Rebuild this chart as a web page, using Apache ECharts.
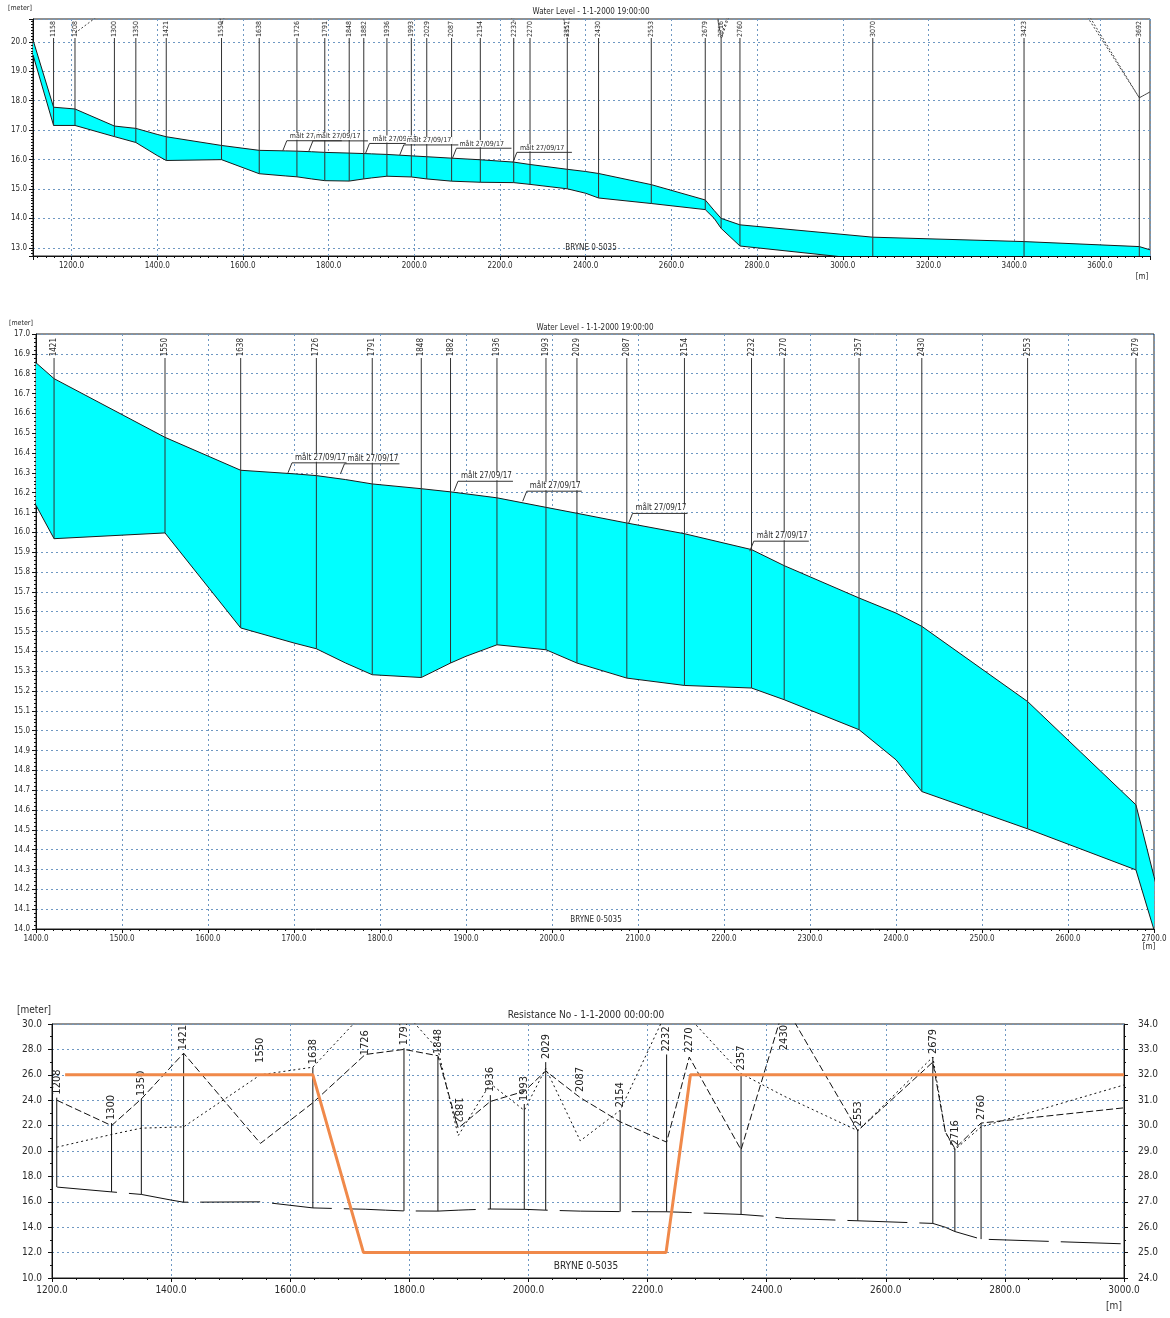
<!DOCTYPE html>
<html><head><meta charset="utf-8">
<script src="https://cdn.jsdelivr.net/npm/echarts@6/dist/echarts.min.js"></script>
<style>html,body{margin:0;padding:0;background:#fff}#c{width:1170px;height:1318px}</style>
</head><body><div id="c"></div>
<script>
// ---------------- DATA ----------------
const chainage   = [1110,1158,1208,1300,1350,1400,1421,1550,1638,1700,1726,1760,1791,1848,1882,1900,1936,1993,2029,2087,2154,2232,2270,2357,2400,2430,2553,2679,2700,2716,2760,3070,3423,3692,3717];
const waterLevel = [20.07,17.78,17.72,17.14,17.06,16.855,16.775,16.479,16.313,16.295,16.286,16.266,16.244,16.220,16.204,16.194,16.174,16.126,16.096,16.047,15.993,15.913,15.832,15.669,15.593,15.526,15.147,14.626,14.264,14.00,13.78,13.36,13.21,13.04,12.93];
const bedLevel   = [19.56,17.16,17.16,16.78,16.58,16.136,15.968,15.997,15.518,15.442,15.413,15.341,15.282,15.268,15.341,15.375,15.433,15.408,15.341,15.265,15.228,15.215,15.156,15.005,14.853,14.693,14.505,14.298,13.995,13.66,13.06,12.58,12.45,12.30,12.25];

const sectionsTop    = [1158,1208,1300,1350,1421,1550,1638,1726,1791,1848,1882,1936,1993,2029,2087,2154,2232,2270,2357,2430,2553,2679,2716,2760,3070,3423,3692];
const sectionsMiddle = [1421,1550,1638,1726,1791,1848,1882,1936,1993,2029,2087,2154,2232,2270,2357,2430,2553,2679];
const sectionsBottom = [1208,1300,1350,1421,1550,1638,1726,1791,1848,1882,1936,1993,2029,2087,2154,2232,2270,2357,2430,2553,2679,2716,2760];
const sectionTopLevel = [24.2,22.2,24.1,27.7,26.7,26.6,27.3,28.1,27.4,22.0,24.4,23.7,27.0,24.4,23.2,27.6,27.5,26.1,27.7,21.7,27.4,20.2,22.2];
const sectionsWithLine = [1208,1300,1350,1421,1638,1791,1848,1936,1993,2029,2154,2232,2357,2553,2679,2716,2760];

const measuredChainage = [1693,1754,1886,1966,2089,2230];
const measuredLevel    = [16.30,16.295,16.207,16.157,16.045,15.905];
const measuredText = 'målt 27/09/17';

const bankChainage = [1208,1300,1350,1421,1550,1638,1726,1791,1848,1882,1936,1993,2029,2087,2154,2232,2270,2357,2430,2553,2679,2700,2716,2760,3000,3070,3423,3692,3717];
const bankLeft  = [24.0,22.0,24.1,27.7,20.6,23.8,27.6,28.0,27.5,21.8,23.9,24.7,26.3,24.2,22.3,20.7,27.4,20.1,31.5,21.6,27.0,21.5,20.2,22.2,23.4,23.6,24.2,18.1,18.3];
const bankRight = [20.3,21.3,21.8,21.9,26.0,26.6,31.0,31.0,28.0,21.2,25.3,23.2,26.5,20.8,23.2,31.0,30.5,26.1,24.3,21.6,27.4,21.5,20.1,21.9,25.2,25.7,24.5,18.1,18.3];

const resistanceChainage = [1222,1638,1723,2231,2272,3000];
const resistanceValue    = [32,32,25,25,32,32];

const titleTop = 'Water Level - 1-1-2000 19:00:00';
const titleBottom = 'Resistance No - 1-1-2000 00:00:00';
const branchName = 'BRYNE 0-5035';

// ---------------- HELPERS ----------------
const FONT = '"Liberation Sans Narrow","DejaVu Sans Condensed","Arial Narrow","Liberation Sans",sans-serif';
const TXT = '#2a2a2a';
const GRIDC = '#6f98c2';
const pairs = (xs, ys) => xs.map((x, i) => [x, ys[i]]);
const bedAt = ch => bedLevel[chainage.indexOf(ch)];

function clipPoly(pts, r) {
  const planes = [[0, r.x, 1], [0, r.x + r.width, -1], [1, r.y, 1], [1, r.y + r.height, -1]];
  for (const [ax, v, s] of planes) {
    const out = [];
    for (let i = 0; i < pts.length; i++) {
      const a = pts[i], b = pts[(i + 1) % pts.length];
      const ina = s * (a[ax] - v) >= 0, inb = s * (b[ax] - v) >= 0;
      if (ina) out.push(a);
      if (ina !== inb) {
        const t = (v - a[ax]) / (b[ax] - a[ax]);
        out.push([a[0] + t * (b[0] - a[0]), a[1] + t * (b[1] - a[1])]);
      }
    }
    pts = out;
    if (!pts.length) break;
  }
  return pts;
}

function xAxisCfg(idx, min, max, fs, margin, minorSplit, extra, edgeLabels) {
  return Object.assign({
    type: 'value', gridIndex: idx, min, max,
    axisLine: {show: true, lineStyle: {color: '#111', width: 1}},
    axisTick: {show: true, inside: false, length: 4, lineStyle: {color: '#111'}},
    minorTick: {show: true, splitNumber: minorSplit, length: 2, lineStyle: {color: '#111'}},
    axisLabel: {fontSize: fs, fontFamily: FONT, color: TXT, margin, formatter: v => v.toFixed(1), showMinLabel: edgeLabels, showMaxLabel: edgeLabels},
    splitLine: {show: true, lineStyle: {color: GRIDC, type: [2, 3], width: 1}}
  }, extra || {});
}
function yAxisCfg(idx, min, max, fs, margin, minorSplit, extra, edgeLabels) {
  return Object.assign({
    type: 'value', gridIndex: idx, min, max,
    axisLine: {show: true, lineStyle: {color: '#111', width: 1}},
    axisTick: {show: true, inside: false, length: 4, lineStyle: {color: '#111'}},
    minorTick: {show: true, splitNumber: minorSplit, length: 2, lineStyle: {color: '#111'}},
    axisLabel: {fontSize: fs, fontFamily: FONT, color: TXT, margin, formatter: v => v.toFixed(1), showMinLabel: edgeLabels, showMaxLabel: edgeLabels},
    splitLine: {show: true, lineStyle: {color: GRIDC, type: [2, 3], width: 1}}
  }, extra || {});
}

function areaSeries(xi, yi) {
  return {
    type: 'custom', xAxisIndex: xi, yAxisIndex: yi, z: 2, silent: true,
    data: pairs(chainage, waterLevel), encode: {x: 0, y: 1},
    renderItem: (params, api) => {
      if (params.dataIndex !== 0) return null;
      const cs = params.coordSys;
      const top = chainage.map((c, i) => api.coord([c, waterLevel[i]]));
      const bot = chainage.map((c, i) => api.coord([c, bedLevel[i]])).reverse();
      const pts = clipPoly(top.concat(bot), cs);
      if (pts.length < 3) return null;
      return {type: 'polygon', shape: {points: pts}, style: {fill: '#00ffff', stroke: null}};
    }
  };
}
function lineSeries(xi, yi, xs, ys, color, width, type, z) {
  return {type: 'line', xAxisIndex: xi, yAxisIndex: yi, data: pairs(xs, ys), symbol: 'none', z: z || 3, silent: true,
    clip: true, lineStyle: {color, width, type: type || 'solid'}};
}

function sectionSeries(xi, yi, list, labelGap, fs, fromTop) {
  return {
    type: 'custom', xAxisIndex: xi, yAxisIndex: yi, z: 5, silent: true,
    data: list.map(ch => [ch, bedAt(ch)]),
    encode: {x: 0, y: 1},
    renderItem: (params, api) => {
      const cs = params.coordSys;
      const ch = api.value(0);
      const p = api.coord([ch, api.value(1)]);
      const yb = Math.min(p[1], cs.y + cs.height);
      return {type: 'group', children: [
        {type: 'line', shape: {x1: p[0], y1: cs.y + labelGap, x2: p[0], y2: yb}, style: {stroke: '#333', lineWidth: 1}},
        {type: 'text', x: p[0], y: cs.y + fromTop, rotation: Math.PI / 2,
          style: {text: String(ch), fontSize: fs, fontFamily: FONT, fill: TXT, align: 'right', verticalAlign: 'middle'}}
      ]};
    }
  };
}

function measuredSeries(xi, yi, fs, underline) {
  return {
    type: 'custom', xAxisIndex: xi, yAxisIndex: yi, z: 8, silent: true,
    data: pairs(measuredChainage, measuredLevel), encode: {x: 0, y: 1},
    renderItem: (params, api) => {
      const p = api.coord([api.value(0), api.value(1)]);
      const x0 = p[0] + 4, y0 = p[1] - 10;
      return {type: 'group', children: [
        {type: 'text', x: x0 + 2, y: y0 - 1,
          style: {text: measuredText, fontSize: fs, fontFamily: FONT, fill: TXT, align: 'left', verticalAlign: 'bottom', backgroundColor: '#fff', padding: [0, 1, 0, 1]}},
        {type: 'polyline', shape: {points: [[p[0], p[1]], [x0, y0], [x0 + underline, y0]]}, style: {stroke: '#333', fill: null, lineWidth: 1}}
      ]};
    }
  };
}

function sectionSeries3() {
  return {
    type: 'custom', xAxisIndex: 2, yAxisIndex: 2, z: 5, silent: true, clip: true,
    data: sectionsBottom.map((ch, i) => [ch, bedAt(ch), sectionTopLevel[i]]),
    encode: {x: 0, y: 1},
    renderItem: (params, api) => {
      const ch = api.value(0);
      const pb = api.coord([ch, api.value(1)]);
      const pt = api.coord([ch, api.value(2)]);
      const children = [];
      if (sectionsWithLine.indexOf(ch) >= 0) {
        children.push({type: 'line', shape: {x1: pb[0], y1: pt[1], x2: pb[0], y2: pb[1]}, style: {stroke: '#111', lineWidth: 1}});
      }
      const flipped = ch === 1882;
      children.push({type: 'text', x: pb[0], y: pt[1] - 3, rotation: flipped ? -Math.PI / 2 : Math.PI / 2,
        style: {text: String(ch), fontSize: 11, fontFamily: FONT, fill: '#222', align: flipped ? 'right' : 'left', verticalAlign: 'middle'}});
      return {type: 'group', children};
    }
  };
}

// ---------------- OPTION ----------------
const grids = [
  {left: 33, top: 19, width: 1117, height: 237},
  {left: 36, top: 334, width: 1118, height: 595},
  {left: 52, top: 1024, width: 1072, height: 254}
].map(g => Object.assign(g, {show: true, borderColor: '#222', borderWidth: 1, backgroundColor: 'transparent', containLabel: false}));

const option = {
  animation: false,
  backgroundColor: '#fff',
  grid: grids,
  xAxis: [
    xAxisCfg(0, 1110, 3717, 8, 6, 10, {splitNumber: 13}, false),
    xAxisCfg(1, 1400, 2700, 8, 6, 10, {interval: 100}, true),
    xAxisCfg(2, 1200, 3000, 10, 7, 5, {interval: 200}, true)
  ],
  yAxis: [
    yAxisCfg(0, 12.72, 20.78, 8, 6, 10, {splitNumber: 8}, false),
    yAxisCfg(1, 14, 17, 8, 6, 5, {interval: 0.1}, true),
    yAxisCfg(2, 10, 30, 10, 10, 2, {interval: 2}, true),
    yAxisCfg(2, 24, 34, 10, 14, 2, {interval: 1, position: 'right', splitLine: {show: false}}, true)
  ],
  graphic: [
    {type: 'text', left: 8, top: 5, style: {text: '[meter]', fontSize: 7, fontFamily: FONT, fill: TXT}},
    {type: 'text', x: 591, y: 12, style: {text: titleTop, fontSize: 8, fontFamily: FONT, fill: TXT, align: 'center', verticalAlign: 'middle'}},
    {type: 'text', x: 591, y: 248, z: 10, style: {text: branchName, fontSize: 8, fontFamily: FONT, fill: TXT, align: 'center', verticalAlign: 'middle'}},
    {type: 'text', x: 1142, y: 277, style: {text: '[m]', fontSize: 8, fontFamily: FONT, fill: TXT, align: 'center', verticalAlign: 'middle'}},

    {type: 'text', left: 9, top: 320, style: {text: '[meter]', fontSize: 7, fontFamily: FONT, fill: TXT}},
    {type: 'text', x: 595, y: 328, style: {text: titleTop, fontSize: 8, fontFamily: FONT, fill: TXT, align: 'center', verticalAlign: 'middle'}},
    {type: 'text', x: 596, y: 920, z: 10, style: {text: branchName, fontSize: 8, fontFamily: FONT, fill: TXT, align: 'center', verticalAlign: 'middle'}},
    {type: 'text', x: 1149, y: 947, style: {text: '[m]', fontSize: 8, fontFamily: FONT, fill: TXT, align: 'center', verticalAlign: 'middle'}},

    {type: 'text', left: 17, top: 1005, style: {text: '[meter]', fontSize: 10, fontFamily: FONT, fill: TXT}},
    {type: 'text', x: 586, y: 1015, style: {text: titleBottom, fontSize: 10, fontFamily: FONT, fill: TXT, align: 'center', verticalAlign: 'middle'}},
    {type: 'text', x: 586, y: 1266, z: 10, style: {text: branchName, fontSize: 10, fontFamily: FONT, fill: TXT, align: 'center', verticalAlign: 'middle'}},
    {type: 'text', x: 1114, y: 1306, style: {text: '[m]', fontSize: 10, fontFamily: FONT, fill: TXT, align: 'center', verticalAlign: 'middle'}}
  ],
  series: [
    areaSeries(0, 0),
    lineSeries(0, 0, chainage, waterLevel, '#1b1b1b', 1),
    lineSeries(0, 0, chainage, bedLevel, '#1b1b1b', 1),
    lineSeries(0, 0, bankChainage, bankLeft, '#444', 1, [2, 2], 4),
    lineSeries(0, 0, bankChainage, bankRight, '#444', 1, [2, 2], 4),
    sectionSeries(0, 0, sectionsTop, 19, 7, 2),
    measuredSeries(0, 0, 7, 55),

    areaSeries(1, 1),
    lineSeries(1, 1, chainage, waterLevel, '#1b1b1b', 1),
    lineSeries(1, 1, chainage, bedLevel, '#1b1b1b', 1),
    sectionSeries(1, 1, sectionsMiddle, 24, 8, 4),
    measuredSeries(1, 1, 8, 55),

    lineSeries(2, 2, chainage, bedLevel, '#111', 1, [60, 12], 4),
    lineSeries(2, 2, bankChainage, bankLeft, '#111', 1, [7, 3], 4),
    lineSeries(2, 2, bankChainage, bankRight, '#111', 1, [2, 3], 4),
    sectionSeries3(),
    {type: 'line', xAxisIndex: 2, yAxisIndex: 3, data: pairs(resistanceChainage, resistanceValue), symbol: 'none', z: 6, silent: true,
      lineStyle: {color: '#f0894a', width: 3}}
  ]
};

const chart = echarts.init(document.getElementById('c'), null, {renderer: 'canvas'});
chart.setOption(option);
</script>
</body></html>
